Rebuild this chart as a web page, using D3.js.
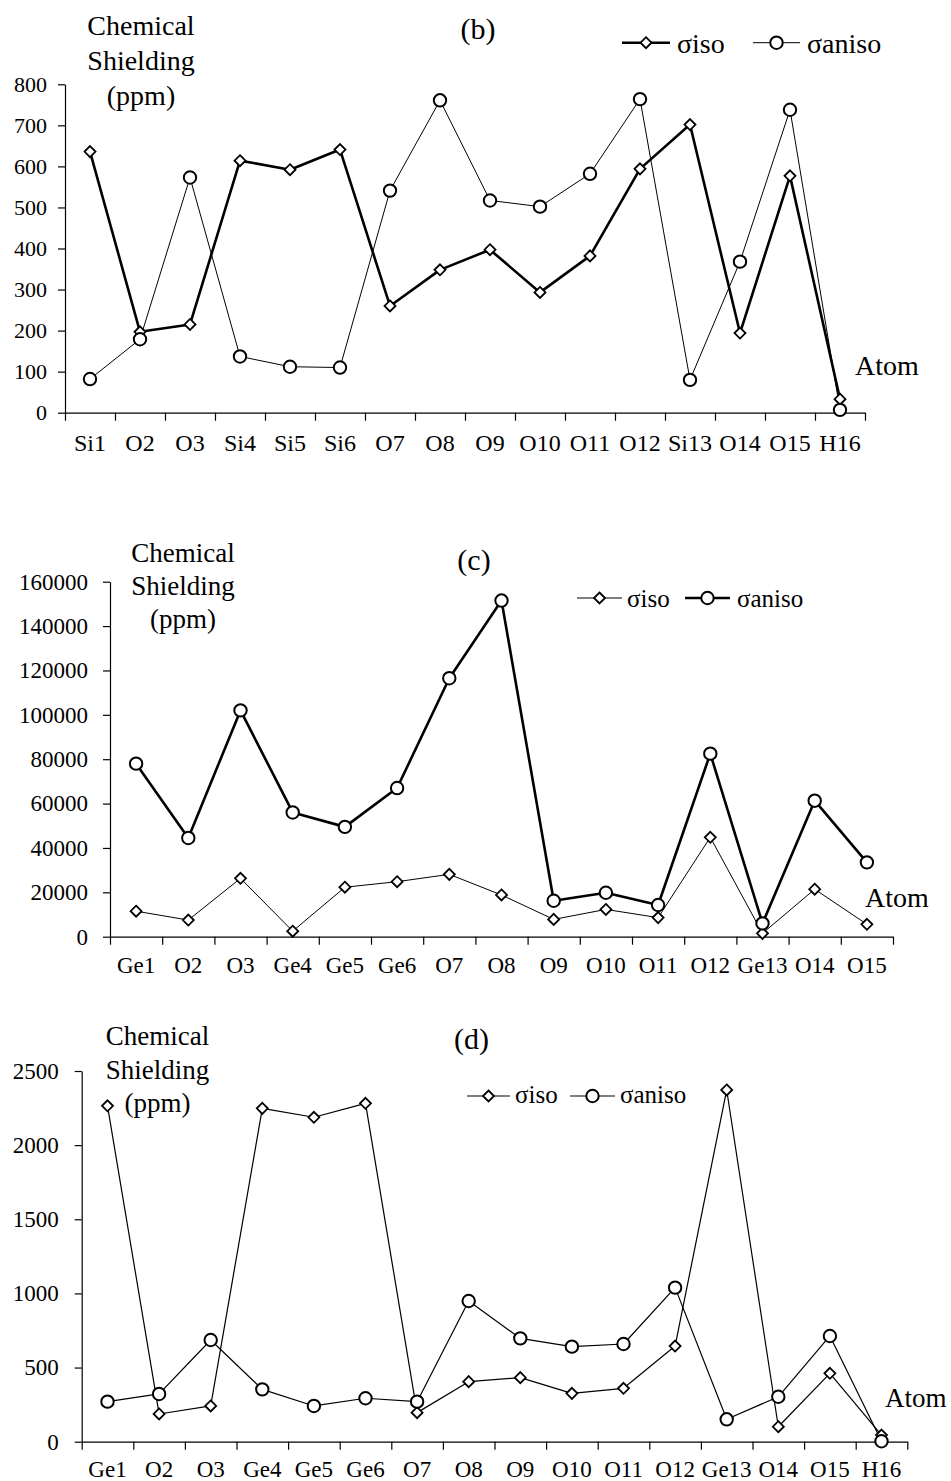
<!DOCTYPE html>
<html>
<head>
<meta charset="utf-8">
<script src="https://cdn.jsdelivr.net/npm/d3@7"></script>
<style>
  html, body { margin: 0; padding: 0; background: #fff; }
  svg { display: block; }
</style>
</head>
<body>
<svg id="chart" width="951" height="1481"></svg>
<script>
// ---- Panel (b): Si cluster ----
const atomsB = ["Si1","O2","O3","Si4","Si5","Si6","O7","O8","O9","O10","O11","O12","Si13","O14","O15","H16"];
const isoB   = [636,197,215,614,592,641,260,348,397,293,382,594,702,194,577,33];
const anisoB = [82,179,573,137,112,110,541,761,517,502,582,764,80,368,738,7];
const ticksB = [0,100,200,300,400,500,600,700,800];

// ---- Panel (c): Ge cluster ----
const atomsC = ["Ge1","O2","O3","Ge4","Ge5","Ge6","O7","O8","O9","O10","O11","O12","Ge13","O14","O15"];
const isoC   = [11500,7500,26300,2500,22300,24800,28100,18800,7800,12300,8600,44800,1500,21400,5600];
const anisoC = [78000,44500,102000,56000,49500,67000,116500,151500,16200,19800,14300,82500,6000,61300,33500];
const ticksC = [0,20000,40000,60000,80000,100000,120000,140000,160000];

// ---- Panel (d): Ge cluster with H ----
const atomsD = ["Ge1","O2","O3","Ge4","Ge5","Ge6","O7","O8","O9","O10","O11","O12","Ge13","O14","O15","H16"];
const isoD   = [2265,187,241,2248,2188,2282,196,405,432,326,360,645,2372,101,461,45];
const anisoD = [270,322,686,353,241,293,270,949,697,641,659,1039,151,303,713,3];
const ticksD = [0,500,1000,1500,2000,2500];

const FONT = "'Liberation Serif','Times New Roman',Times,serif";
const svg = d3.select("#chart");

const diamondPath = s => `M0,${-s}L${s},0L0,${s}L${-s},0Z`;

function marker(g, kind, x, y) {
  if (kind === "diamond") {
    g.append("path")
      .attr("d", diamondPath(5.5))
      .attr("transform", `translate(${x},${y})`)
      .attr("fill", "#fff").attr("stroke", "#000").attr("stroke-width", 1.8);
  } else {
    g.append("circle")
      .attr("cx", x).attr("cy", y).attr("r", 6.2)
      .attr("fill", "#fff").attr("stroke", "#000").attr("stroke-width", 2);
  }
}

function drawPanel(p) {
  const g = svg.append("g");
  const n = p.atoms.length;

  const x = d3.scaleBand().domain(p.atoms).range([p.left, p.right]).paddingInner(0).paddingOuter(0);
  const xb = d3.scaleLinear().domain([0, n]).range([p.left, p.right]);
  const y = d3.scaleLinear().domain([0, p.yMax]).range([p.y0, p.yTop]);

  // y axis
  const ya = g.append("g").attr("transform", `translate(${p.left},0)`)
    .call(d3.axisLeft(y).tickValues(p.ticks).tickSize(7).tickSizeOuter(0).tickPadding(p.tickPad).tickFormat(d3.format("d")));
  ya.selectAll("path,line").attr("stroke", "#000").attr("stroke-width", 1.2);
  ya.selectAll("text").attr("font-family", FONT).attr("font-size", p.tickFont).attr("fill", "#000");

  // x axis: boundary ticks
  const xa = g.append("g").attr("transform", `translate(0,${p.y0})`)
    .call(d3.axisBottom(xb).tickValues(d3.range(n + 1)).tickSize(8).tickSizeOuter(0).tickFormat(""));
  xa.selectAll("path,line").attr("stroke", "#000").attr("stroke-width", 1.2);

  // x category labels at band centers
  const xl = g.append("g").attr("transform", `translate(0,${p.y0})`)
    .call(d3.axisBottom(x).tickSize(0).tickSizeOuter(0));
  xl.select(".domain").remove();
  xl.selectAll("text").attr("font-family", FONT).attr("font-size", p.catFont).attr("fill", "#000")
    .attr("dy", null).attr("y", p.catOffset);

  const cx = (d, i) => x(p.atoms[i]) + x.bandwidth() / 2;
  const line = d3.line().x(cx).y(d => y(d));

  const series = [
    { values: p.iso, kind: "diamond", width: p.isoWidth },
    { values: p.aniso, kind: "circle", width: p.anisoWidth }
  ];
  series.forEach(s => {
    g.append("path").datum(s.values).attr("d", line)
      .attr("fill", "none").attr("stroke", "#000").attr("stroke-width", s.width)
      .attr("stroke-linejoin", "round");
  });
  series.forEach(s => {
    const mg = g.append("g");
    s.values.forEach((v, i) => marker(mg, s.kind, cx(v, i), y(v)));
  });

  // axis title
  const t = g.append("text").attr("font-family", FONT).attr("font-size", p.title.size)
    .attr("text-anchor", "middle").attr("fill", "#000");
  ["Chemical", "Shielding", "(ppm)"].forEach((s, i) => {
    t.append("tspan").attr("x", p.title.x).attr("y", p.title.ys[i]).text(s);
  });

  // panel tag
  g.append("text").attr("x", p.tag.x).attr("y", p.tag.y).attr("text-anchor", "middle")
    .attr("font-family", FONT).attr("font-size", 30).attr("fill", "#000").text(p.tag.text);

  // x axis title
  g.append("text").attr("x", p.atomLbl.x).attr("y", p.atomLbl.y)
    .attr("font-family", FONT).attr("font-size", p.atomLbl.size).attr("fill", "#000").text("Atom");

  // legend
  const L = p.legend;
  const items = [
    { label: "σiso", kind: "diamond", width: p.isoWidth, x0: L.iso[0], x1: L.iso[1], tx: L.iso[2] },
    { label: "σaniso", kind: "circle", width: p.anisoWidth, x0: L.aniso[0], x1: L.aniso[1], tx: L.aniso[2] }
  ];
  items.forEach(it => {
    g.append("line").attr("x1", it.x0).attr("x2", it.x1).attr("y1", L.y).attr("y2", L.y)
      .attr("stroke", "#000").attr("stroke-width", it.width);
    marker(g, it.kind, (it.x0 + it.x1) / 2, L.y);
    g.append("text").attr("x", it.tx).attr("y", L.ty)
      .attr("font-family", FONT).attr("font-size", L.size).attr("fill", "#000").text(it.label);
  });
}

drawPanel({
  atoms: atomsB, iso: isoB, aniso: anisoB, ticks: ticksB, yMax: 800,
  left: 65, right: 865, y0: 412.7, yTop: 84.3,
  tickPad: 11, tickFont: 22, catFont: 24, catOffset: 38,
  isoWidth: 2.6, anisoWidth: 1,
  title: { x: 141, ys: [35, 70, 105], size: 28 },
  tag: { text: "(b)", x: 478, y: 39 },
  atomLbl: { x: 855, y: 375, size: 28 },
  legend: { y: 42.7, ty: 53, size: 28, iso: [622, 670, 677], aniso: [753, 800, 807] }
});

drawPanel({
  atoms: atomsC, iso: isoC, aniso: anisoC, ticks: ticksC, yMax: 160000,
  left: 110, right: 893, y0: 936.7, yTop: 581.7,
  tickPad: 15, tickFont: 23, catFont: 23, catOffset: 36,
  isoWidth: 1, anisoWidth: 2.6,
  title: { x: 183, ys: [562, 595, 628], size: 27 },
  tag: { text: "(c)", x: 474, y: 570 },
  atomLbl: { x: 865, y: 907, size: 28 },
  legend: { y: 598, ty: 606.5, size: 25, iso: [577, 622, 627], aniso: [685, 730, 737] }
});

drawPanel({
  atoms: atomsD, iso: isoD, aniso: anisoD, ticks: ticksD, yMax: 2500,
  left: 81.7, right: 907.3, y0: 1441.7, yTop: 1071,
  tickPad: 16, tickFont: 23, catFont: 23, catOffset: 35,
  isoWidth: 1.2, anisoWidth: 1.2,
  title: { x: 157.5, ys: [1045, 1079, 1112], size: 27 },
  tag: { text: "(d)", x: 471.5, y: 1049 },
  atomLbl: { x: 885, y: 1407, size: 27 },
  legend: { y: 1096, ty: 1103, size: 25, iso: [467, 510, 515], aniso: [570, 615, 620] }
});
</script>
</body>
</html>
